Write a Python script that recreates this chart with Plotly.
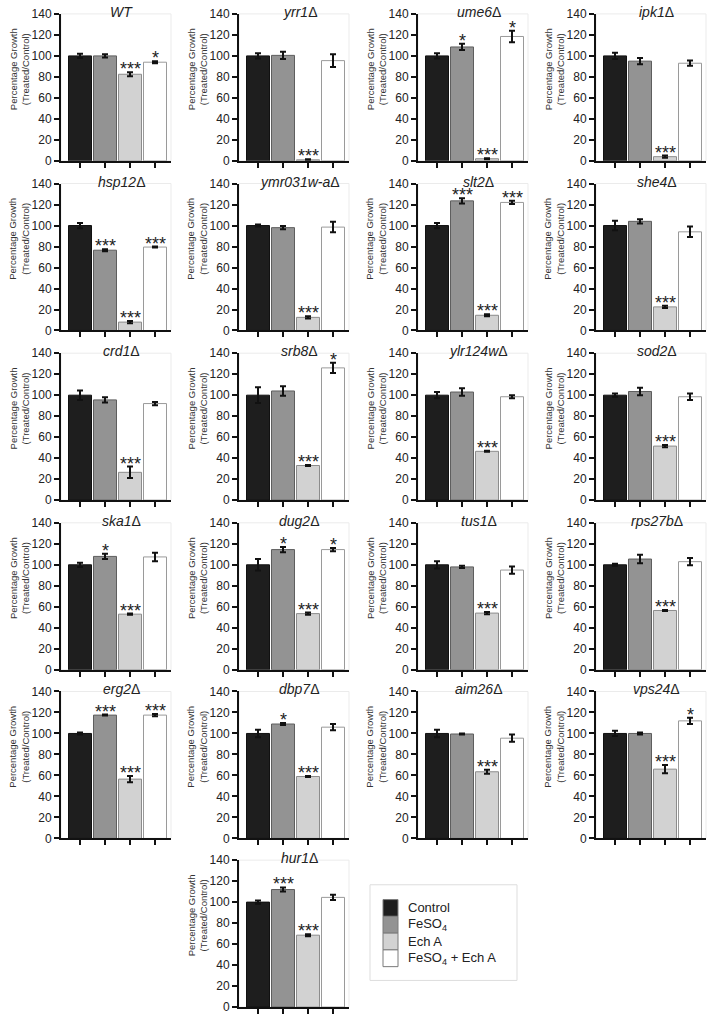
import plotly.graph_objects as go

W, H = 709, 1020

# ---------------- data ----------------
strains = ["WT", "yrr1", "ume6", "ipk1",
           "hsp12", "ymr031w-a", "slt2", "she4",
           "crd1", "srb8", "ylr124w", "sod2",
           "ska1", "dug2", "tus1", "rps27b",
           "erg2", "dbp7", "aim26", "vps24",
           "hur1"]
conditions = ["Control", "FeSO<sub>4</sub>", "Ech A", "FeSO<sub>4</sub> + Ech A"]

control_mean = [100, 100, 100, 100, 100, 100, 100, 100, 100, 100, 100, 100,
                100, 100, 100, 100, 100, 100, 100, 100, 100]
control_err = [2, 2.5, 2.5, 3, 2.5, 1, 2.5, 4.5, 4.5, 7.5, 3, 1.5,
               2, 5.5, 3.5, 1, 1, 3.5, 3.5, 2.5, 1.5]
feso4_mean = [100, 100.5, 108.5, 95, 76.5, 98, 123.5, 104, 95.5, 104, 103, 103.5,
              108, 114.5, 98, 105.5, 117.5, 109, 99.5, 100, 112]
feso4_err = [1.5, 3.5, 3, 3, 1, 1.5, 2.5, 2, 2.5, 4.5, 3.5, 3.5,
             2.5, 2.5, 1, 4, 0.5, 1, 0.5, 1, 2]
echa_mean = [82.5, 1, 2, 4, 8, 12.5, 14.5, 22.5, 26.5, 33, 46.5, 51.5,
             53, 53.5, 54, 56.5, 56.5, 59, 63.5, 66, 68.5]
echa_err = [2, 0.5, 0.5, 1, 1, 1, 1, 1, 5.5, 0.5, 0.5, 1,
            0.5, 1, 1, 0.5, 3, 0.5, 2, 4, 1]
combo_mean = [94, 95.5, 118.5, 93, 79.5, 98.5, 122, 94, 92, 126, 98.5, 98.5,
              107.5, 114.5, 95, 103, 117.5, 106, 95.5, 112, 104.5]
combo_err = [1, 6, 5.5, 2.5, 0.5, 5, 1.5, 5, 1.5, 5, 1.5, 3,
             4, 1.5, 3.5, 3.5, 1, 3, 3.5, 3, 2.5]

feso4_sig = ["", "", "*", "", "***", "", "***", "", "", "", "", "",
             "*", "*", "", "", "***", "*", "", "", "***"]
echa_sig = ["***"] * 21
combo_sig = ["*", "", "*", "", "***", "", "***", "", "", "*", "", "",
             "", "*", "", "", "***", "", "", "*", ""]

y_ticks = [0, 20, 40, 60, 80, 100, 120, 140]
y_title = "Percentage Growth<br>(Treated/Control)"

# ---------------- styling ----------------
fills = ["#1e1e1e", "#939393", "#d2d2d2", "#ffffff"]
edges = ["#111111", "#5e5e5e", "#8c8c8c", "#9a9a9a"]
FONT = "Liberation Sans, Arial, sans-serif"

col_left_px = [61, 239, 418, 596]
row_top_px = [7, 179, 351, 523, 694, 865]
plot_w_px, plot_h_px = 110, 149

fig = go.Figure()
shapes, annotations = [], []
layout_axes = {}

for i, name in enumerate(strains):
    if i < 20:
        r, c = divmod(i, 4)
    else:
        r, c = 5, 1
    n = i + 1
    xs = "" if n == 1 else str(n)
    xname, yname = "x" + xs, "y" + xs
    x0 = col_left_px[c] / W
    x1 = (col_left_px[c] + plot_w_px) / W
    ytop = 1 - row_top_px[r] / H
    ybot = 1 - (row_top_px[r] + plot_h_px) / H

    means = [control_mean[i], feso4_mean[i], echa_mean[i], combo_mean[i]]
    errs = [control_err[i], feso4_err[i], echa_err[i], combo_err[i]]
    sigs = ["", feso4_sig[i], echa_sig[i], combo_sig[i]]

    fig.add_trace(go.Bar(
        x=[0, 1, 2, 3], y=means, width=0.92,
        marker=dict(color=fills, line=dict(color=edges, width=1)),
        error_y=dict(type="data", array=errs, visible=True,
                     color="#111111", thickness=2, width=3),
        xaxis=xname, yaxis=yname, showlegend=False,
        customdata=conditions,
        hovertemplate="%{customdata}: %{y}<extra>" + name + "</extra>",
    ))

    layout_axes["xaxis" + xs] = dict(
        domain=[x0, x1], anchor=yname, range=[-0.76, 3.64],
        tickvals=[0, 1, 2, 3], showticklabels=False,
        ticks="outside", ticklen=5, tickwidth=2, tickcolor="#111",
        showline=True, linewidth=2, linecolor="#111",
        showgrid=False, zeroline=False, fixedrange=True,
    )
    layout_axes["yaxis" + xs] = dict(
        domain=[ybot, ytop], anchor=xname, range=[0, 140],
        tickvals=y_ticks, ticks="outside", ticklen=5, tickwidth=2,
        tickcolor="#111", tickfont=dict(size=12, color="#222", family=FONT),
        showline=True, linewidth=2, linecolor="#111",
        showgrid=False, zeroline=False, fixedrange=True,
    )

    # y-axis title (placed as rotated text, as in the reference: sits high)
    annotations.append(dict(xref="paper", yref="paper",
                            x=(col_left_px[c] - 42) / W,
                            y=1 - (row_top_px[r] + 56) / H,
                            xanchor="center", yanchor="middle", textangle=-90,
                            text=y_title, showarrow=False,
                            font=dict(size=9.5, color="#333", family=FONT)))

    # faint frame around the plot area
    shapes.append(dict(type="rect", xref=xname + " domain", yref=yname + " domain",
                       x0=0, x1=1, y0=0, y1=1, layer="below",
                       line=dict(color="#ebebeb", width=1)))

    title = "<i>WT</i>" if name == "WT" else "<i>" + name + "</i>Δ"
    annotations.append(dict(xref=xname + " domain", yref=yname + " domain",
                            x=0.55, y=1, xanchor="center", yanchor="middle",
                            yshift=2, text=title, showarrow=False,
                            font=dict(size=14, color="#222", family=FONT)))

    for j in range(4):
        if sigs[j]:
            annotations.append(dict(xref=xname, yref=yname, x=j,
                                    y=means[j] + errs[j], text=sigs[j],
                                    xanchor="center", yanchor="bottom",
                                    yshift=-9, showarrow=False,
                                    font=dict(size=18, color="#222", family=FONT)))

# ---------------- legend (drawn) ----------------
lx0, lx1, ly0, ly1 = 370, 517, 890, 987
shapes.append(dict(type="rect", xref="paper", yref="paper",
                   x0=lx0 / W, x1=lx1 / W, y0=1 - ly1 / H, y1=1 - ly0 / H,
                   line=dict(color="#dddddd", width=1)))
sw_x0, sw_x1, sw_top, sw_h = 383, 398, 905, 17
for k, lab in enumerate(conditions):
    t = sw_top + k * sw_h
    shapes.append(dict(type="rect", xref="paper", yref="paper",
                       x0=sw_x0 / W, x1=sw_x1 / W,
                       y0=1 - (t + sw_h) / H, y1=1 - t / H,
                       fillcolor=fills[k], line=dict(color="#7a7a7a", width=1)))
    annotations.append(dict(xref="paper", yref="paper", x=406 / W,
                            y=1 - (t + sw_h / 2) / H, xanchor="left",
                            yanchor="middle", text=lab, showarrow=False,
                            font=dict(size=13, color="#222", family=FONT)))

fig.update_layout(
    width=W, height=H, margin=dict(l=0, r=0, t=0, b=0),
    paper_bgcolor="white", plot_bgcolor="white",
    font=dict(family=FONT, color="#222"),
    shapes=shapes, annotations=annotations, showlegend=False,
    bargap=0.05, **layout_axes,
)

fig.write_html("out.html")
